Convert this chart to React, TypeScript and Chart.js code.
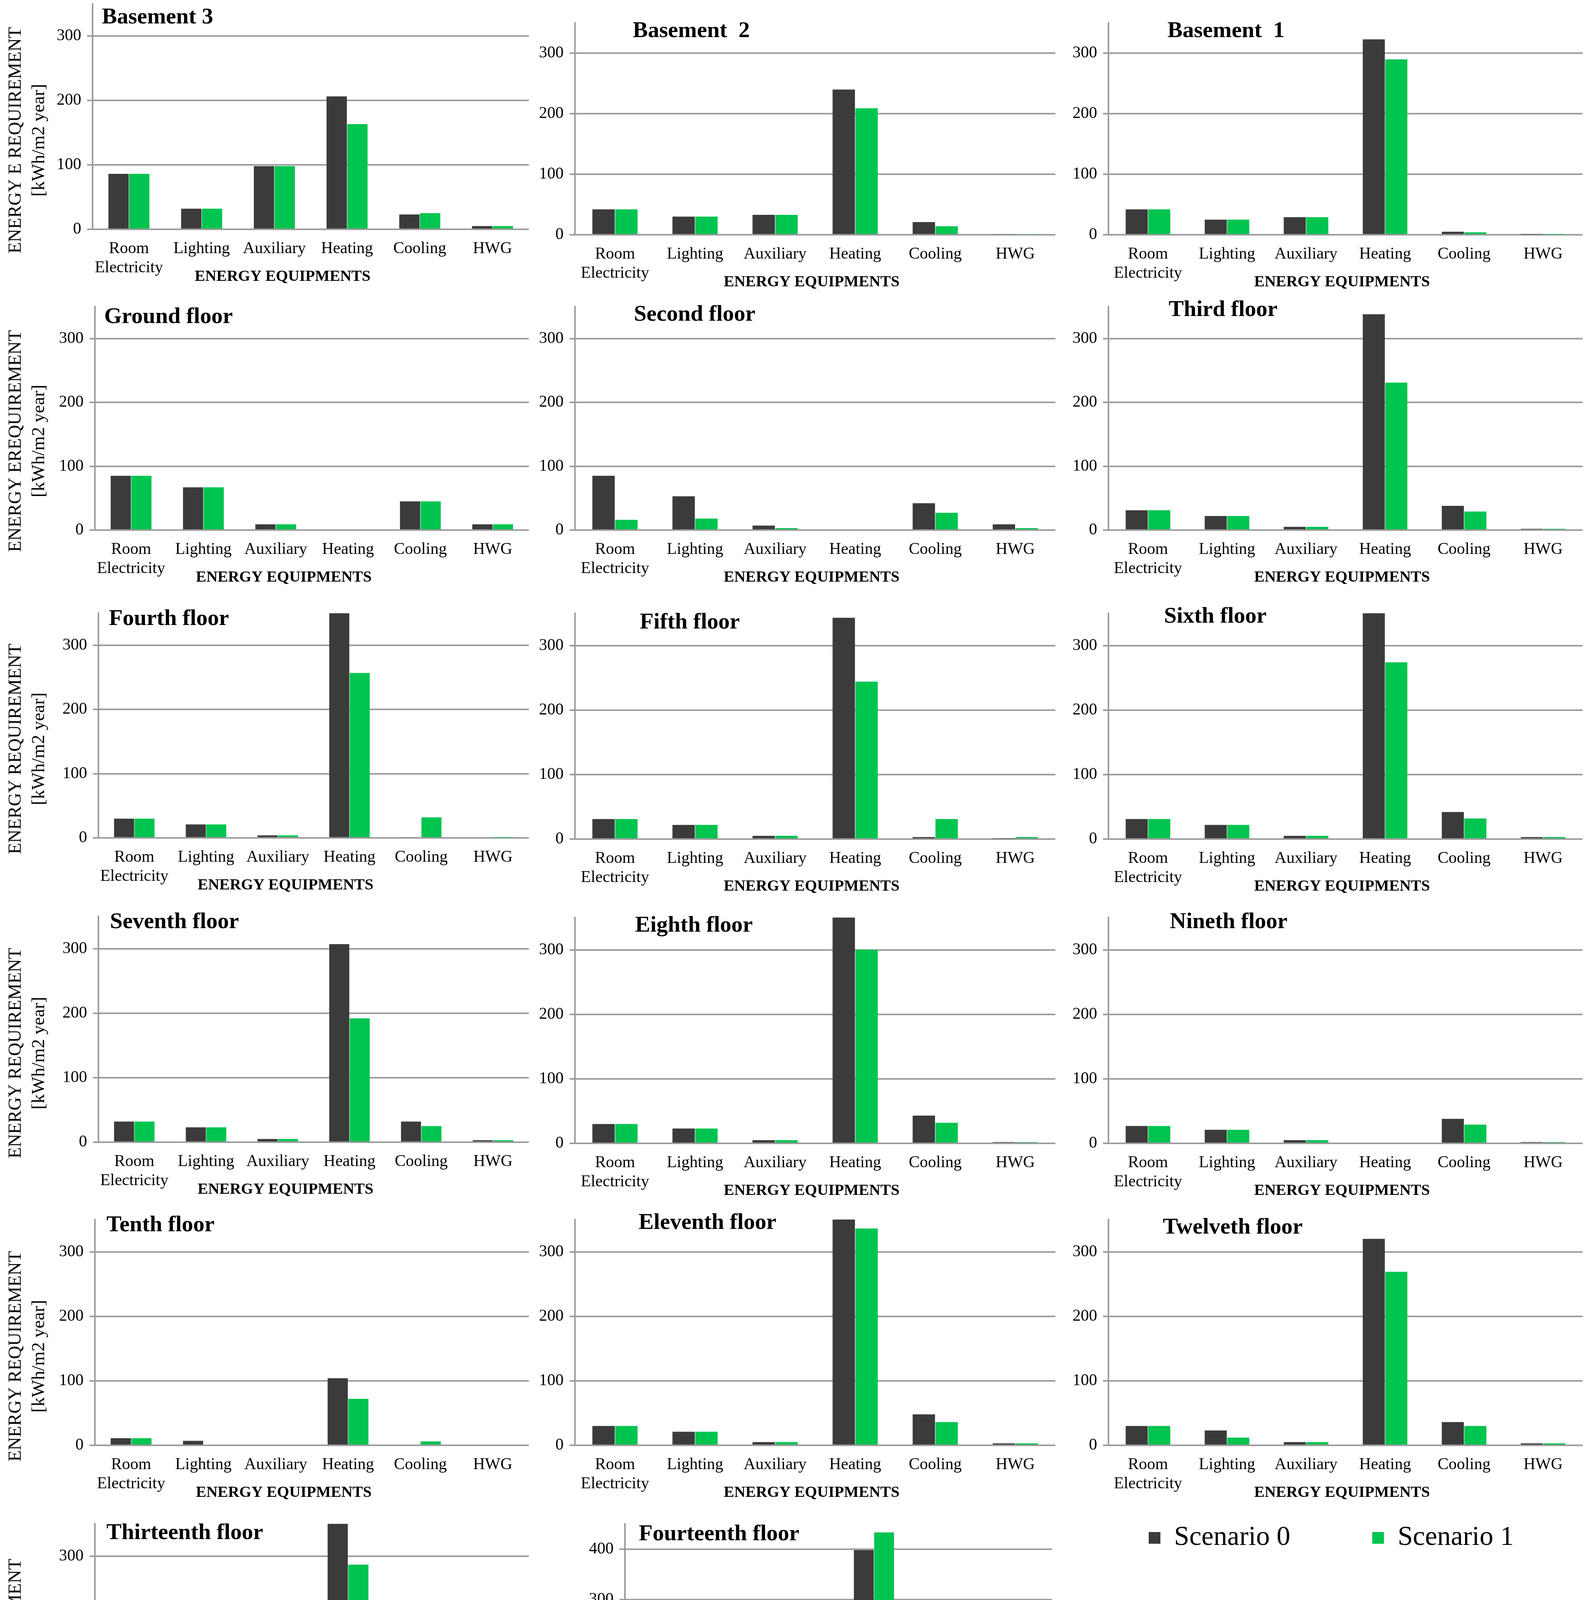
import React, { useEffect, useRef } from "react";
import { Chart, registerables } from "chart.js";

Chart.register(...registerables);

// ============================================================================
// DATA  (kWh/m2 year, order: Room Electricity, Lighting, Auxiliary, Heating, Cooling, HWG)
// ============================================================================

const categories = [["Room", "Electricity"], "Lighting", "Auxiliary", "Heating", "Cooling", "HWG"];
const seriesLabels = ["Scenario 0", "Scenario 1"];
const panelTitles = [
  "Basement 3", "Basement  2", "Basement  1",
  "Ground floor", "Second floor", "Third floor",
  "Fourth floor", "Fifth floor", "Sixth floor",
  "Seventh floor", "Eighth floor", "Nineth floor",
  "Tenth floor", "Eleventh floor", "Twelveth floor",
  "Thirteenth floor", "Fourteenth floor",
];
const rowAxisTitles = [
  "ENERGY E REQUIREMENT",
  "ENERGY EREQUIREMENT",
  "ENERGY REQUIREMENT",
  "ENERGY REQUIREMENT",
  "ENERGY REQUIREMENT",
  "ENERGYREQUIREMENT",
];
const unitTitle = "[kWh/m2 year]";
const xAxisTitle = "ENERGY EQUIPMENTS";
const yMax = [350, 350, 350, 350, 350, 350, 350, 350, 350, 350, 350, 350, 350, 350, 350, 350, 450];

const basement3S0 = [86, 32, 98, 206, 23, 5];
const basement3S1 = [86, 32, 98, 163, 25, 5];
const basement2S0 = [42, 30, 33, 240, 21, 1];
const basement2S1 = [42, 30, 33, 209, 14, 1];
const basement1S0 = [42, 25, 29, 323, 5, 0.5];
const basement1S1 = [42, 25, 29, 290, 4, 0.5];
const groundS0 = [85, 67, 9, 0, 45, 9];
const groundS1 = [85, 67, 9, 0, 45, 9];
const secondS0 = [85, 53, 7, 0, 42, 9];
const secondS1 = [16, 18, 3, 0, 27, 3];
const thirdS0 = [31, 22, 5, 338, 38, 2];
const thirdS1 = [31, 22, 5, 231, 29, 2];
const fourthS0 = [30, 21, 4, 350, 1, 0];
const fourthS1 = [30, 21, 4, 257, 32, 0.5];
const fifthS0 = [31, 22, 5, 343, 3, 0.5];
const fifthS1 = [31, 22, 5, 244, 31, 3];
const sixthS0 = [31, 22, 5, 350, 42, 3];
const sixthS1 = [31, 22, 5, 274, 32, 3];
const seventhS0 = [32, 23, 5, 307, 32, 3];
const seventhS1 = [32, 23, 5, 192, 25, 3];
const eighthS0 = [30, 23, 5, 350, 43, 2];
const eighthS1 = [30, 23, 5, 300, 32, 2];
const ninthS0 = [27, 21, 5, 0, 38, 2];
const ninthS1 = [27, 21, 5, 0, 29, 2];
const tenthS0 = [11, 7, 0, 104, 0, 0];
const tenthS1 = [11, 0, 0, 72, 6, 0];
const eleventhS0 = [30, 21, 5, 350, 48, 3];
const eleventhS1 = [30, 21, 5, 336, 36, 3];
const twelfthS0 = [30, 23, 5, 320, 36, 3];
const twelfthS1 = [30, 12, 5, 269, 30, 3];
const thirteenthS0 = [32, 25, 5, 350, 43, 0];
const thirteenthS1 = [32, 12, 5, 287, 28, 0];
const fourteenthS0 = [44, 29, 6, 398, 23, 4];
const fourteenthS1 = [44, 29, 6, 433, 28, 4];

const scenario0 = [
  basement3S0, basement2S0, basement1S0, groundS0, secondS0, thirdS0,
  fourthS0, fifthS0, sixthS0, seventhS0, eighthS0, ninthS0,
  tenthS0, eleventhS0, twelfthS0, thirteenthS0, fourteenthS0,
];
const scenario1 = [
  basement3S1, basement2S1, basement1S1, groundS1, secondS1, thirdS1,
  fourthS1, fifthS1, sixthS1, seventhS1, eighthS1, ninthS1,
  tenthS1, eleventhS1, twelfthS1, thirteenthS1, fourteenthS1,
];

// ============================================================================
// LAYOUT (reference measured on a 1376 px wide copy, scaled by S)
// ============================================================================

const S = 4076 / 1376;
const FONT = "'Liberation Serif', 'Times New Roman', serif";
const DARK = "#3b3b3b";
const GREEN = "#00c450";
const GRID = "#9c9c9c";
const PAD_TOP = 40;
const X_HEIGHT = 150;

// axis x, right edge, top of axis, zero line, title offset x/y
const panelBoxes = [
  [80, 457, 3, 198, 8, 12], [497, 912, 20, 203, 50, 7], [958, 1368, 20, 203, 51, 7],
  [82, 457, 265, 458, 8, 9], [497, 912, 265, 458, 51, 7], [958, 1368, 265, 458, 52, 3],
  [85, 457, 530, 724, 9, 5], [497, 912, 530, 725, 56, 8], [958, 1368, 530, 725, 48, 3],
  [85, 457, 792, 987, 10, 5], [497, 912, 793, 988, 52, 7], [958, 1368, 793, 988, 53, 4],
  [82, 457, 1054, 1249, 10, 5], [497, 912, 1054, 1249, 55, 3], [958, 1368, 1054, 1249, 47, 7],
  [82, 457, 1317, 1513, 10, 8], [540, 909, 1317, 1513, 12, 9],
];

Chart.defaults.font.family = FONT;
Chart.defaults.color = "#000";

// ============================================================================
// PANEL
// ============================================================================

const Panel = ({ index }: { index: number }) => {
  const canvasRef = useRef<HTMLCanvasElement | null>(null);
  const [axisX, rightX, topY, zeroY, tx, ty] = panelBoxes[index];
  const col = index % 3;
  const row = Math.floor(index / 3);
  const axisPx = Math.round(axisX * S);
  const left = col === 0 ? 0 : axisPx - 118;
  const yWidth = axisPx - left;
  const top = Math.round(topY * S) - PAD_TOP;
  const height = Math.round(zeroY * S) - Math.round(topY * S) + PAD_TOP + X_HEIGHT;
  const width = Math.round(rightX * S) - left;

  useEffect(() => {
    const ctx = canvasRef.current?.getContext("2d");
    if (!ctx) return;

    const textPlugin = {
      id: "panelText",
      afterDraw(chart: any) {
        const c = chart.ctx;
        const area = chart.chartArea;
        c.save();
        c.fillStyle = "#000";
        c.textBaseline = "middle";
        c.textAlign = "left";
        c.font = `bold 58px ${FONT}`;
        c.fillText(panelTitles[index], area.left + tx * S, area.top + ty * S);

        c.font = `bold 40px ${FONT}`;
        c.textAlign = "center";
        const dx = col === 0 || index === 16 ? -72 : -9;
        c.fillText(xAxisTitle, (area.left + area.right) / 2 + dx, area.bottom + 122);

        if (col === 0) {
          c.font = `47px ${FONT}`;
          const cy = area.bottom - 228;
          c.translate(41, cy);
          c.rotate(-Math.PI / 2);
          c.fillText(rowAxisTitles[row], 0, 0);
          c.rotate(Math.PI / 2);
          c.translate(60, 0);
          c.rotate(-Math.PI / 2);
          c.fillText(unitTitle, 0, 0);
        }
        c.restore();
      },
    };

    const chart = new Chart(ctx, {
      type: "bar",
      data: {
        labels: categories as any,
        datasets: [
          { label: seriesLabels[0], data: scenario0[index], backgroundColor: DARK, borderWidth: 0 },
          { label: seriesLabels[1], data: scenario1[index], backgroundColor: GREEN, borderWidth: 0 },
        ],
      },
      options: {
        animation: false,
        responsive: true,
        maintainAspectRatio: false,
        layout: { padding: { top: PAD_TOP, left: 0, right: 0, bottom: 0 } },
        datasets: { bar: { categoryPercentage: 0.57, barPercentage: 0.98 } },
        plugins: { legend: { display: false }, tooltip: { enabled: false } },
        scales: {
          x: {
            grid: { display: false, drawTicks: false },
            border: { display: false },
            ticks: {
              autoSkip: false,
              maxRotation: 0,
              minRotation: 0,
              padding: 25,
              color: "#000",
              font: { size: 42, lineHeight: 1.17 },
            },
            afterFit: (scale: any) => {
              scale.height = X_HEIGHT;
              scale.paddingLeft = 0;
              scale.paddingRight = 0;
            },
          },
          y: {
            min: 0,
            max: yMax[index],
            grid: { color: GRID, lineWidth: 4, tickLength: 14, drawTicks: true },
            border: { display: true, color: GRID, width: 4 },
            ticks: {
              stepSize: 100,
              includeBounds: false,
              padding: 15,
              color: "#000",
              font: { size: 42 },
            },
            afterFit: (scale: any) => {
              scale.width = yWidth;
              scale.paddingTop = 0;
              scale.paddingBottom = 0;
            },
          },
        },
      } as any,
      plugins: [textPlugin],
    });

    return () => {
      chart.destroy();
    };
  }, [index]);

  return (
    <div style={{ position: "absolute", left, top, width, height }}>
      <canvas ref={canvasRef} />
    </div>
  );
};

// ============================================================================
// LEGEND
// ============================================================================

const LegendBox = () => {
  const canvasRef = useRef<HTMLCanvasElement | null>(null);
  const legendPad = 210;
  const fontSize = 70;
  const left = Math.round(993 * S) - legendPad;
  const top = Math.round(1329 * S) - legendPad - fontSize / 2;

  useEffect(() => {
    const ctx = canvasRef.current?.getContext("2d");
    if (!ctx) return;
    const chart = new Chart(ctx, {
      type: "bar",
      data: {
        labels: [],
        datasets: [
          { label: seriesLabels[0], data: [], backgroundColor: DARK, borderWidth: 0 },
          { label: seriesLabels[1], data: [], backgroundColor: GREEN, borderWidth: 0 },
        ],
      },
      options: {
        animation: false,
        responsive: true,
        maintainAspectRatio: false,
        scales: { x: { display: false }, y: { display: false } },
        plugins: {
          tooltip: { enabled: false },
          legend: {
            display: true,
            align: "start",
            maxHeight: 600,
            labels: {
              boxWidth: 30,
              boxHeight: 30,
              padding: legendPad,
              color: "#000",
              font: { size: fontSize, family: FONT },
            },
          },
        },
      } as any,
    });
    return () => {
      chart.destroy();
    };
  }, []);

  return (
    <div style={{ position: "absolute", left, top, width: 1500, height: 700 }}>
      <canvas ref={canvasRef} />
    </div>
  );
};

// ============================================================================
// APP
// ============================================================================

export default function App() {
  return (
    <div
      style={{
        position: "relative",
        margin: -8,
        width: 4076,
        height: 4617,
        overflow: "hidden",
        background: "#fff",
      }}
    >
      {panelBoxes.map((_, i) => (
        <Panel key={i} index={i} />
      ))}
      <LegendBox />
    </div>
  );
}
